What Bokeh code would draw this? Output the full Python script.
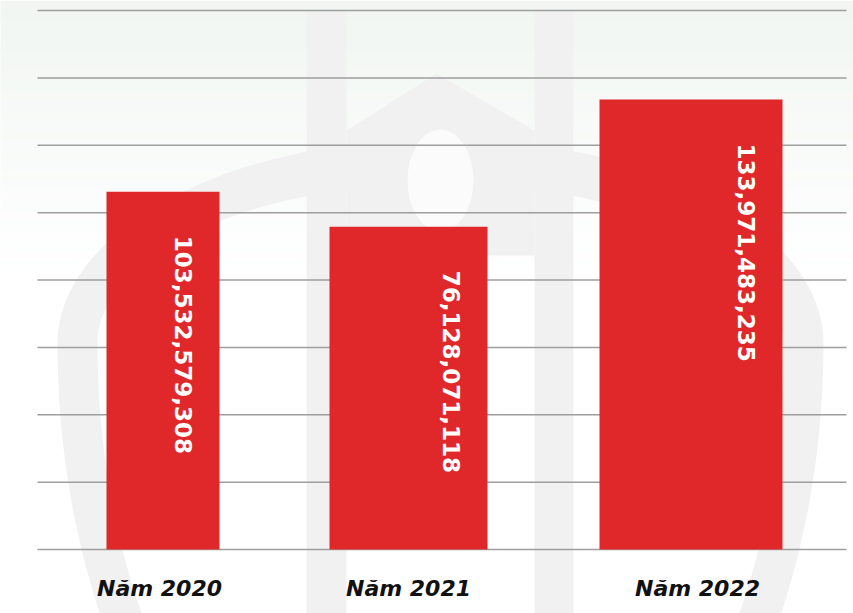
import numpy as np
from bokeh.plotting import figure
from bokeh.models import Range1d
from bokeh.core.properties import value
from bokeh.embed import file_html
from bokeh.resources import INLINE

# ---------------- data ----------------
years = ["Năm 2020", "Năm 2021", "Năm 2022"]
bar_values = [106.2, 95.8, 133.6]            # bar heights read against the grid (one grid step = 20)
value_labels = ["103,532,579,308", "76,128,071,118", "133,971,483,235"]
grid_values = [0, 20, 40, 60, 80, 100, 120, 140, 160]

# ---------------- layout (pixels) ----------------
W, H = 853, 613
BASE_PY, TOP_PY = 549, 10
PPU = (BASE_PY - TOP_PY) / 160.0
bar_left_px = [106, 329, 599]
bar_right_px = [219, 487, 782]
label_center_px = [159, 408, 697]
GRID_X0, GRID_X1 = 37, 846


def yd(py):
    return (BASE_PY - py) / PPU


p = figure(width=W, height=H, x_range=Range1d(0, W), y_range=Range1d(yd(H), yd(0)),
           x_axis_location=None, y_axis_location=None, toolbar_location=None,
           output_backend="svg", min_border=0, outline_line_color=None,
           background_fill_color="white", border_fill_color="white")
p.xgrid.grid_line_color = None
p.ygrid.grid_line_color = None

# soft greenish gradient at the top
n = 28
tops, bots, cols = [], [], []
for i in range(n):
    py0 = i * 10
    py1 = py0 + 12
    t = i / (n - 1)
    r = int(round(241 + (255 - 241) * t))
    g = int(round(246 + (255 - 246) * t))
    b = int(round(242 + (255 - 242) * t))
    tops.append(yd(py0)); bots.append(yd(py1)); cols.append("#%02x%02x%02x" % (r, g, b))
p.quad(left=-5, right=W + 5, top=tops, bottom=bots, fill_color=cols, line_color=None, level="image")

# faint watermark logo
WM = "#f1f1f1"
tt = np.linspace(0, 2 * np.pi, 240)


def shield(a, btop, bbot, cx=440, cy=343):
    s = np.sin(tt)
    bb = np.where(s > 0, btop, bbot)
    xs = cx + a * np.cos(tt)
    ys = cy - bb * s
    return list(xs), [yd(v) for v in ys]


ox, oy = shield(383, 205, 590)
ix, iy = shield(343, 160, 550)
p.multi_polygons(xs=[[[ox, ix]]], ys=[[[oy, iy]]], fill_color=WM, line_color=None, level="image")
p.quad(left=[306, 534], right=[346, 573], top=yd(10), bottom=yd(H), fill_color=WM,
       line_color=None, level="image")
roof_x = [346, 436, 534, 534, 346]
roof_y = [yd(v) for v in [130, 73, 130, 255, 255]]
p.patch(roof_x, roof_y, fill_color=WM, line_color=None, level="image")
p.ellipse(x=440, y=yd(180), width=66, height=102 / PPU, fill_color="#fbfbfb", line_color=None,
          level="image")

# grid lines
p.segment(x0=GRID_X0, x1=GRID_X1, y0=grid_values, y1=grid_values, line_color="#9e9e9e",
          line_width=1.5)

# bars
p.quad(left=bar_left_px, right=bar_right_px, bottom=0, top=bar_values,
       fill_color="#e0282a", line_color=None)

# value labels (rotated)
p.text(x=[r - 36 for r in bar_right_px], y=[v - 44 / PPU for v in bar_values], text=value_labels,
       angle=-np.pi / 2, text_align="left", text_baseline="middle", text_color="white",
       text_font=value("DejaVu Sans"), text_font_style="bold", text_font_size="23px")

# category labels
p.text(x=label_center_px, y=yd(588), text=years, text_align="center", text_baseline="alphabetic",
       text_color="#111111", text_font=value("DejaVu Sans"), text_font_style="bold italic",
       text_font_size="22px")

open("out.html", "w").write(file_html(p, INLINE))
